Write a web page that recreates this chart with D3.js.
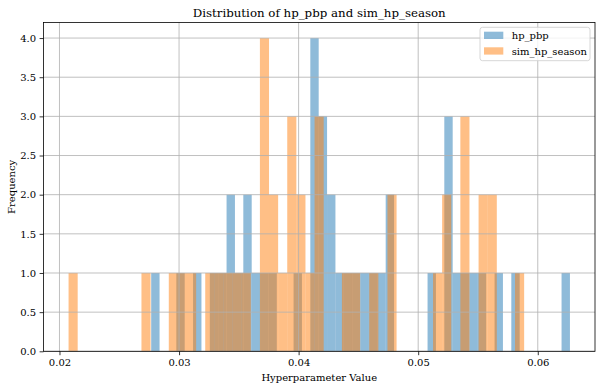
<!DOCTYPE html>
<html lang="en">
<head>
  <meta charset="utf-8">
  <title>Distribution of hp_pbp and sim_hp_season</title>
  <style>
    body { margin: 0; background: #fff; }
    text { font-family: "DejaVu Serif", serif; fill: #000; }
  </style>
</head>
<body>
  <script src="https://cdnjs.cloudflare.com/ajax/libs/d3/7.8.5/d3.min.js"></script>
  <script type="text/javascript">
  // histogram bins (50 per series), edges
  const hpPbpRange = [0.02767, 0.06269];
  const hpPbpCounts = [
    1, 0, 0, 1, 0, 1, 0, 1, 1, 2,
    1, 2, 1, 1, 1, 0, 0, 1, 0, 4,
    3, 2, 1, 1, 1, 1, 1, 1, 2, 0,
    0, 0, 0, 1, 0, 3, 1, 1, 1, 1,
    0, 1, 0, 1, 0, 0, 0, 0, 0, 1
  ];
  const simRange = [0.02076, 0.05886];
  const simCounts = [
    1, 0, 0, 0, 0, 0, 0, 0, 1, 0,
    0, 1, 1, 1, 0, 1, 1, 1, 1, 1,
    0, 4, 2, 1, 3, 2, 1, 3, 0, 0,
    1, 1, 0, 1, 0, 2, 0, 0, 0, 0,
    1, 2, 0, 3, 0, 2, 2, 0, 0, 1
  ];
  const seriesNames = ["hp_pbp", "sim_hp_season"];
  const xTicks = [0.02, 0.03, 0.04, 0.05, 0.06];
  const yTicks = [0, 0.5, 1, 1.5, 2, 2.5, 3, 3.5, 4];

  const W = 602, H = 389;
  const margin = { top: 22.4, right: 7, bottom: 37.7, left: 43.5 };
  const width = W - margin.left - margin.right;
  const height = H - margin.top - margin.bottom;
  const colors = ["#1f77b4", "#ff7f0e"];
  const fs = "10px";

  const toBins = (range, counts) => {
    const w = (range[1] - range[0]) / counts.length;
    return counts.map((c, i) => ({ x0: range[0] + i * w, x1: range[0] + (i + 1) * w, n: c }));
  };
  const series = [toBins(hpPbpRange, hpPbpCounts), toBins(simRange, simCounts)];

  const lo = Math.min(hpPbpRange[0], simRange[0]);
  const hi = Math.max(hpPbpRange[1], simRange[1]);
  const pad = (hi - lo) * 0.05;
  const yMax = d3.max([...hpPbpCounts, ...simCounts]) * 1.05;

  const x = d3.scaleLinear().domain([lo - pad, hi + pad]).range([0, width]);
  const y = d3.scaleLinear().domain([0, yMax]).range([height, 0]);

  const svg = d3.select("body")
    .append("svg")
    .attr("width", W)
    .attr("height", H);

  const g = svg.append("g")
    .attr("transform", `translate(${margin.left}, ${margin.top})`);

  // bars
  series.forEach((bins, k) => {
    g.append("g")
      .selectAll("rect")
      .data(bins.filter(d => d.n > 0))
      .enter()
      .append("rect")
      .attr("x", d => x(d.x0))
      .attr("width", d => x(d.x1) - x(d.x0))
      .attr("y", d => y(d.n))
      .attr("height", d => y(0) - y(d.n))
      .attr("fill", colors[k])
      .attr("fill-opacity", 0.5);
  });

  // grid (drawn over patches, like matplotlib's default)
  const grid = g.append("g").attr("stroke", "#b0b0b0").attr("stroke-width", 0.8);
  grid.selectAll(".gx").data(xTicks).enter().append("line")
    .attr("x1", d => x(d)).attr("x2", d => x(d))
    .attr("y1", 0).attr("y2", height);
  grid.selectAll(".gy").data(yTicks).enter().append("line")
    .attr("y1", d => y(d)).attr("y2", d => y(d))
    .attr("x1", 0).attr("x2", width);

  // axes
  const xAxis = d3.axisBottom(x).tickValues(xTicks).tickFormat(d3.format(".2f"))
    .tickSize(3.9).tickPadding(3.5);
  const yAxis = d3.axisLeft(y).tickValues(yTicks).tickFormat(d3.format(".1f"))
    .tickSize(3.9).tickPadding(3.5);

  const gx = g.append("g").attr("transform", `translate(0, ${height})`).call(xAxis);
  const gy = g.append("g").call(yAxis);
  [gx, gy].forEach(a => {
    a.select(".domain").remove();
    a.selectAll("line").attr("stroke", "#000").attr("stroke-width", 0.8);
    a.selectAll("text").style("font-family", "DejaVu Serif").style("font-size", fs).attr("fill", "#000");
  });

  // frame
  g.append("rect")
    .attr("width", width).attr("height", height)
    .attr("fill", "none").attr("stroke", "#000").attr("stroke-width", 0.8);

  // labels
  svg.append("text")
    .attr("x", margin.left + width / 2).attr("y", 16.7)
    .attr("text-anchor", "middle").style("font-size", "11.8px")
    .text("Distribution of hp_pbp and sim_hp_season");

  svg.append("text")
    .attr("x", margin.left + width / 2).attr("y", 381)
    .attr("text-anchor", "middle").style("font-size", fs)
    .text("Hyperparameter Value");

  svg.append("text")
    .attr("transform", `translate(15, ${margin.top + height / 2}) rotate(-90)`)
    .attr("text-anchor", "middle").style("font-size", fs)
    .text("Frequency");

  // legend
  const lg = svg.append("g").attr("transform", "translate(480, 27.3)");
  lg.append("rect")
    .attr("width", 110).attr("height", 33.4).attr("rx", 2.5)
    .attr("fill", "#fff").attr("fill-opacity", 0.8)
    .attr("stroke", "#cccccc").attr("stroke-width", 0.8);
  seriesNames.forEach((name, i) => {
    lg.append("rect")
      .attr("x", 4).attr("y", 4.4 + i * 15.6)
      .attr("width", 19.3).attr("height", 7.3)
      .attr("fill", colors[i]).attr("fill-opacity", 0.5);
    lg.append("text")
      .attr("x", 31.7).attr("y", 11.8 + i * 15.6)
      .style("font-size", fs)
      .text(name);
  });
  </script>
</body>
</html>
